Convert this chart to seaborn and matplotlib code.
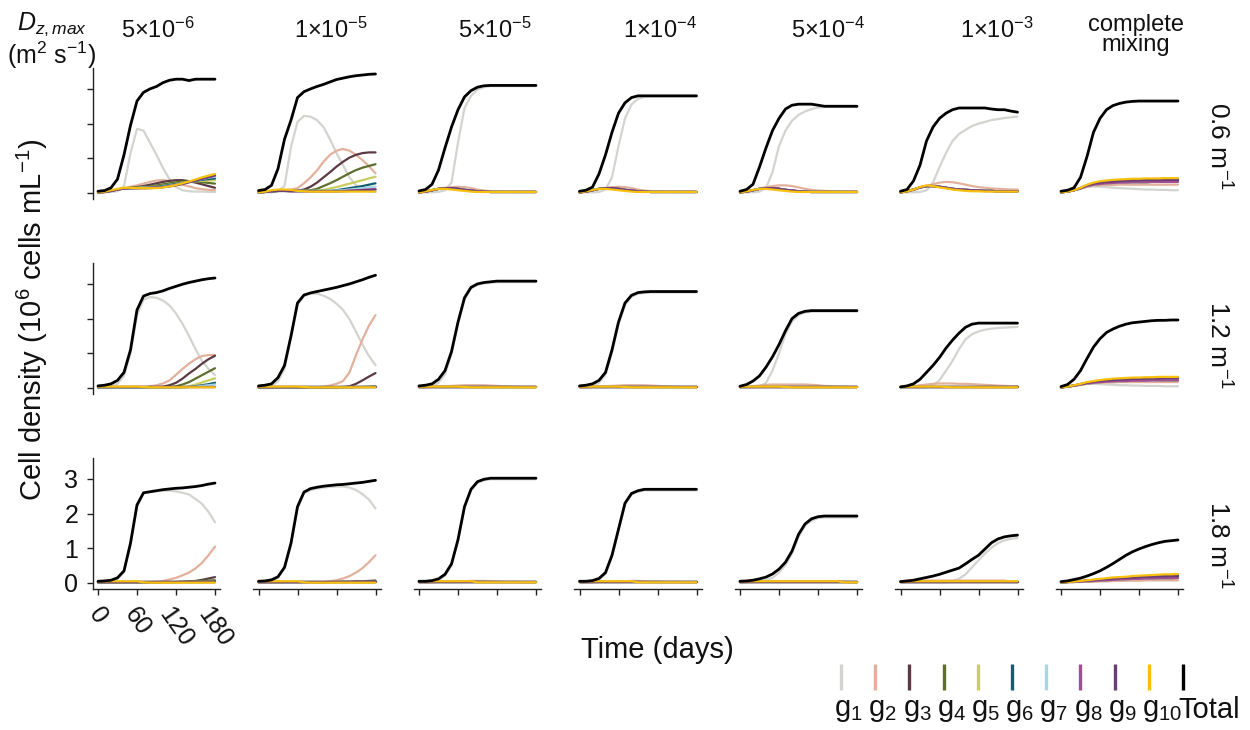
import matplotlib
matplotlib.use("Agg")
import matplotlib.pyplot as plt
import pandas as pd
import seaborn as sns

# ---------------------------------------------------------------- data
DAYS = list(range(0, 181, 10))

GENOS = ["g1", "g2", "g3", "g4", "g5", "g6", "g7", "g8", "g9", "g10", "Total"]
COLORS = ["#d2d5cf", "#e3b19b", "#5c3a44", "#5e6f2d", "#c8cf5d", "#0f5f6e",
          "#a9d6e6", "#a44e8f", "#6b3d76", "#f8c10e", "#000000"]
LEGEND_LABELS = [r"g$_{\mathregular{%d}}$" % i for i in range(1, 11)] + ["Total"]

DZ_TITLES = [r"5×10$^{\mathregular{-6}}$", r"1×10$^{\mathregular{-5}}$",
             r"5×10$^{\mathregular{-5}}$", r"1×10$^{\mathregular{-4}}$",
             r"5×10$^{\mathregular{-4}}$", r"1×10$^{\mathregular{-3}}$",
             "complete\nmixing"]
KD_LABELS = [r"0.6 m$^{\mathregular{-1}}$", r"1.2 m$^{\mathregular{-1}}$",
             r"1.8 m$^{\mathregular{-1}}$"]

Y_TICKS = [0, 1, 2, 3]
X_TICKS = [0, 60, 120, 180]

# shared low-abundance trajectories
low_flat = [0.02, 0.02, 0.02, 0.02, 0.02, 0.02, 0.02, 0.02, 0.02, 0.02,
            0.02, 0.02, 0.02, 0.02, 0.02, 0.02, 0.02, 0.02, 0.02]
early_bump = [0.02, 0.04, 0.08, 0.12, 0.14, 0.14, 0.12, 0.09, 0.07, 0.05,
              0.04, 0.03, 0.03, 0.03, 0.03, 0.03, 0.03, 0.03, 0.03]
early_bump_g2 = [0.02, 0.04, 0.08, 0.12, 0.15, 0.17, 0.18, 0.17, 0.14, 0.1,
                 0.07, 0.05, 0.04, 0.04, 0.03, 0.03, 0.03, 0.03, 0.03]
early_gold = [0.02, 0.05, 0.09, 0.12, 0.12, 0.1, 0.08, 0.06, 0.04, 0.03,
              0.03, 0.03, 0.03, 0.03, 0.03, 0.03, 0.03, 0.03, 0.03]
mid_bump_g2 = [0.02, 0.02, 0.03, 0.04, 0.05, 0.06, 0.07, 0.08, 0.08, 0.08,
               0.08, 0.07, 0.06, 0.05, 0.04, 0.04, 0.03, 0.03, 0.03]
gold_low = [0.04, 0.04, 0.04, 0.04, 0.04, 0.04, 0.04, 0.03, 0.02, 0.02,
            0.02, 0.02, 0.02, 0.02, 0.02, 0.02, 0.02, 0.02, 0.02]

# ---- k = 0.6 m-1
k06_5e6 = {
    "Total": [0.05, 0.07, 0.15, 0.4, 1.1, 1.95, 2.65, 2.9, 3.0, 3.07, 3.18, 3.25, 3.28, 3.28, 3.24, 3.28, 3.28, 3.28, 3.28],
    "g1": [0.02, 0.02, 0.03, 0.05, 0.2, 1.15, 1.85, 1.8, 1.45, 1.1, 0.72, 0.4, 0.17, 0.08, 0.05, 0.04, 0.04, 0.03, 0.03],
    "g2": [0.02, 0.03, 0.06, 0.1, 0.14, 0.18, 0.22, 0.27, 0.32, 0.36, 0.37, 0.35, 0.3, 0.24, 0.19, 0.14, 0.11, 0.09, 0.08],
    "g3": [0.02, 0.03, 0.06, 0.1, 0.13, 0.15, 0.17, 0.2, 0.24, 0.28, 0.32, 0.35, 0.37, 0.37, 0.34, 0.3, 0.25, 0.2, 0.15],
    "g4": [0.02, 0.03, 0.06, 0.1, 0.13, 0.14, 0.15, 0.17, 0.19, 0.22, 0.25, 0.28, 0.31, 0.33, 0.34, 0.33, 0.31, 0.29, 0.27],
    "g5": [0.02, 0.03, 0.06, 0.1, 0.13, 0.14, 0.15, 0.16, 0.17, 0.19, 0.21, 0.24, 0.27, 0.3, 0.32, 0.34, 0.35, 0.36, 0.37],
    "g6": [0.02, 0.03, 0.06, 0.1, 0.13, 0.14, 0.14, 0.15, 0.16, 0.18, 0.2, 0.23, 0.26, 0.29, 0.32, 0.35, 0.38, 0.4, 0.42],
    "g7": [0.02, 0.03, 0.06, 0.1, 0.13, 0.14, 0.14, 0.15, 0.15, 0.16, 0.18, 0.21, 0.24, 0.28, 0.32, 0.36, 0.4, 0.44, 0.47],
    "g8": [0.02, 0.03, 0.06, 0.1, 0.13, 0.14, 0.14, 0.14, 0.15, 0.16, 0.17, 0.2, 0.23, 0.27, 0.31, 0.36, 0.41, 0.45, 0.5],
    "g9": [0.02, 0.03, 0.06, 0.1, 0.13, 0.14, 0.14, 0.14, 0.14, 0.15, 0.17, 0.19, 0.22, 0.26, 0.31, 0.36, 0.41, 0.46, 0.51],
    "g10": [0.02, 0.04, 0.08, 0.12, 0.15, 0.15, 0.14, 0.14, 0.14, 0.14, 0.16, 0.19, 0.23, 0.28, 0.33, 0.39, 0.45, 0.5, 0.55],
}
k06_1e5 = {
    "Total": [0.07, 0.1, 0.22, 0.7, 1.55, 2.1, 2.75, 2.92, 3.0, 3.07, 3.13, 3.2, 3.27, 3.31, 3.35, 3.38, 3.4, 3.42, 3.43],
    "g1": [0.02, 0.02, 0.02, 0.04, 0.2, 1.33, 2.05, 2.22, 2.2, 2.1, 1.9, 1.55, 1.15, 0.8, 0.45, 0.22, 0.1, 0.05, 0.03],
    "g2": [0.02, 0.03, 0.05, 0.07, 0.08, 0.1, 0.14, 0.28, 0.45, 0.65, 0.9, 1.1, 1.22, 1.27, 1.22, 1.1, 0.95, 0.77, 0.57],
    "g3": [0.02, 0.03, 0.05, 0.06, 0.06, 0.06, 0.07, 0.1, 0.18, 0.3, 0.45, 0.6, 0.76, 0.9, 1.02, 1.1, 1.15, 1.17, 1.17],
    "g4": [0.02, 0.03, 0.05, 0.06, 0.06, 0.06, 0.06, 0.07, 0.08, 0.12, 0.2, 0.28, 0.37, 0.47, 0.57, 0.66, 0.73, 0.78, 0.83],
    "g5": [0.02, 0.03, 0.05, 0.06, 0.06, 0.06, 0.06, 0.06, 0.06, 0.07, 0.09, 0.13, 0.17, 0.22, 0.27, 0.32, 0.37, 0.42, 0.47],
    "g6": [0.02, 0.03, 0.05, 0.06, 0.06, 0.06, 0.06, 0.06, 0.06, 0.06, 0.06, 0.06, 0.08, 0.11, 0.14, 0.17, 0.2, 0.24, 0.28],
    "g7": [0.02, 0.03, 0.05, 0.06, 0.06, 0.06, 0.06, 0.06, 0.06, 0.06, 0.06, 0.06, 0.07, 0.08, 0.1, 0.12, 0.14, 0.16, 0.18],
    "g8": [0.02, 0.03, 0.05, 0.06, 0.06, 0.05, 0.05, 0.05, 0.05, 0.05, 0.05, 0.05, 0.05, 0.06, 0.07, 0.08, 0.09, 0.1, 0.11],
    "g9": [0.02, 0.03, 0.05, 0.06, 0.06, 0.05, 0.05, 0.05, 0.05, 0.05, 0.05, 0.05, 0.05, 0.05, 0.06, 0.07, 0.08, 0.09, 0.1],
    "g10": [0.02, 0.04, 0.08, 0.1, 0.1, 0.09, 0.06, 0.05, 0.04, 0.04, 0.04, 0.04, 0.04, 0.04, 0.04, 0.04, 0.04, 0.04, 0.04],
}
k06_5e5 = {
    "Total": [0.06, 0.1, 0.25, 0.66, 1.3, 1.9, 2.4, 2.77, 2.95, 3.05, 3.09, 3.1, 3.1, 3.1, 3.1, 3.1, 3.1, 3.1, 3.1],
    "g1": [0.02, 0.02, 0.02, 0.03, 0.08, 0.3, 1.45, 2.45, 2.8, 2.98, 3.05, 3.08, 3.08, 3.08, 3.08, 3.08, 3.08, 3.08, 3.08],
    "g2": early_bump_g2, "g10": early_gold, "rest": early_bump,
}
k06_1e4 = {
    "Total": [0.05, 0.08, 0.17, 0.55, 1.1, 1.75, 2.3, 2.6, 2.75, 2.8, 2.8, 2.8, 2.8, 2.8, 2.8, 2.8, 2.8, 2.8, 2.8],
    "g1": [0.02, 0.02, 0.02, 0.03, 0.1, 0.45, 1.35, 2.15, 2.55, 2.72, 2.77, 2.78, 2.78, 2.78, 2.78, 2.78, 2.78, 2.78, 2.78],
    "g2": early_bump_g2, "g10": early_gold, "rest": early_bump,
}
k06_5e4 = {
    "Total": [0.05, 0.1, 0.25, 0.75, 1.3, 1.8, 2.15, 2.42, 2.53, 2.56, 2.56, 2.56, 2.53, 2.5, 2.5, 2.5, 2.5, 2.5, 2.5],
    "g1": [0.02, 0.02, 0.02, 0.04, 0.15, 0.6, 1.35, 1.8, 2.08, 2.25, 2.35, 2.42, 2.46, 2.48, 2.48, 2.48, 2.48, 2.48, 2.48],
    "g2": [0.02, 0.04, 0.08, 0.13, 0.17, 0.2, 0.22, 0.22, 0.2, 0.16, 0.12, 0.09, 0.07, 0.06, 0.05, 0.04, 0.04, 0.04, 0.04],
    "g10": early_gold, "rest": early_bump,
}
k06_1e3 = {
    "Total": [0.05, 0.1, 0.35, 0.8, 1.5, 1.9, 2.15, 2.3, 2.4, 2.45, 2.45, 2.45, 2.45, 2.45, 2.42, 2.4, 2.4, 2.36, 2.33],
    "g1": [0.02, 0.02, 0.02, 0.03, 0.08, 0.3, 0.75, 1.15, 1.5, 1.7, 1.82, 1.93, 2.0, 2.05, 2.1, 2.13, 2.16, 2.18, 2.2],
    "g2": [0.02, 0.04, 0.08, 0.15, 0.2, 0.25, 0.3, 0.32, 0.31, 0.28, 0.24, 0.2, 0.17, 0.15, 0.13, 0.12, 0.11, 0.1, 0.1],
    "g10": [0.02, 0.05, 0.1, 0.17, 0.22, 0.2, 0.16, 0.13, 0.1, 0.08, 0.06, 0.05, 0.05, 0.04, 0.04, 0.04, 0.04, 0.04, 0.04],
    "rest": [0.02, 0.05, 0.1, 0.16, 0.2, 0.2, 0.18, 0.15, 0.12, 0.1, 0.09, 0.08, 0.07, 0.06, 0.06, 0.05, 0.05, 0.05, 0.05],
}
k06_mix = {
    "Total": [0.05, 0.08, 0.15, 0.45, 1.05, 1.75, 2.15, 2.4, 2.52, 2.58, 2.62, 2.64, 2.65, 2.65, 2.65, 2.65, 2.65, 2.65, 2.65],
    "g1": [0.02, 0.04, 0.08, 0.13, 0.18, 0.19, 0.18, 0.17, 0.15, 0.14, 0.13, 0.12, 0.11, 0.1, 0.1, 0.09, 0.09, 0.08, 0.08],
    "g2": [0.02, 0.04, 0.08, 0.13, 0.18, 0.21, 0.22, 0.23, 0.23, 0.24, 0.24, 0.24, 0.24, 0.24, 0.24, 0.24, 0.24, 0.24, 0.24],
    "g3": [0.02, 0.04, 0.08, 0.14, 0.22, 0.27, 0.3, 0.32, 0.33, 0.34, 0.35, 0.36, 0.36, 0.37, 0.37, 0.37, 0.38, 0.38, 0.38],
    "g6": [0.02, 0.04, 0.08, 0.14, 0.22, 0.27, 0.3, 0.32, 0.33, 0.34, 0.35, 0.36, 0.36, 0.37, 0.37, 0.37, 0.38, 0.38, 0.38],
    "g9": [0.02, 0.04, 0.08, 0.14, 0.22, 0.27, 0.3, 0.32, 0.33, 0.34, 0.35, 0.36, 0.36, 0.37, 0.37, 0.37, 0.38, 0.38, 0.38],
    "g10": [0.02, 0.04, 0.08, 0.15, 0.24, 0.3, 0.34, 0.36, 0.38, 0.39, 0.4, 0.41, 0.41, 0.42, 0.42, 0.42, 0.43, 0.43, 0.43],
    "rest": [0.02, 0.04, 0.08, 0.13, 0.2, 0.24, 0.26, 0.28, 0.29, 0.3, 0.3, 0.31, 0.31, 0.31, 0.32, 0.32, 0.32, 0.32, 0.32],
}

# ---- k = 1.2 m-1
k12_5e6 = {
    "Total": [0.06, 0.08, 0.12, 0.22, 0.45, 1.1, 2.25, 2.65, 2.72, 2.75, 2.8, 2.87, 2.93, 2.99, 3.04, 3.08, 3.12, 3.15, 3.17],
    "g1": [0.02, 0.03, 0.05, 0.12, 0.35, 1.0, 2.1, 2.55, 2.62, 2.6, 2.52, 2.38, 2.15, 1.85, 1.5, 1.12, 0.78, 0.55, 0.37],
    "g2": [0.02, 0.02, 0.03, 0.03, 0.04, 0.04, 0.04, 0.04, 0.05, 0.08, 0.13, 0.22, 0.38, 0.55, 0.7, 0.83, 0.92, 0.95, 0.95],
    "g3": [0.02, 0.02, 0.02, 0.02, 0.02, 0.02, 0.02, 0.02, 0.03, 0.03, 0.04, 0.08, 0.15, 0.27, 0.42, 0.55, 0.7, 0.83, 0.93],
    "g4": [0.02, 0.02, 0.02, 0.02, 0.02, 0.02, 0.02, 0.02, 0.02, 0.02, 0.02, 0.03, 0.05, 0.1, 0.17, 0.27, 0.37, 0.47, 0.57],
    "g5": [0.02, 0.02, 0.02, 0.02, 0.02, 0.02, 0.02, 0.02, 0.02, 0.02, 0.02, 0.02, 0.02, 0.03, 0.05, 0.1, 0.16, 0.22, 0.28],
    "g6": [0.02, 0.02, 0.02, 0.02, 0.02, 0.02, 0.02, 0.02, 0.02, 0.02, 0.02, 0.02, 0.02, 0.02, 0.03, 0.05, 0.08, 0.11, 0.15],
    "g7": [0.02, 0.02, 0.02, 0.02, 0.02, 0.02, 0.02, 0.02, 0.02, 0.02, 0.02, 0.02, 0.02, 0.02, 0.03, 0.04, 0.06, 0.08, 0.1],
    "g10": gold_low, "rest": low_flat,
}
k12_1e5 = {
    "Total": [0.06, 0.08, 0.12, 0.3, 0.65, 1.5, 2.45, 2.68, 2.74, 2.78, 2.82, 2.86, 2.9, 2.95, 3.0, 3.06, 3.12, 3.19, 3.25],
    "g1": [0.02, 0.03, 0.05, 0.2, 0.55, 1.45, 2.4, 2.65, 2.72, 2.72, 2.66, 2.57, 2.43, 2.25, 1.98, 1.62, 1.25, 0.92, 0.66],
    "g2": [0.02, 0.02, 0.02, 0.02, 0.03, 0.03, 0.03, 0.03, 0.03, 0.03, 0.04, 0.07, 0.12, 0.2, 0.45, 0.95, 1.4, 1.8, 2.1],
    "g3": [0.02, 0.02, 0.02, 0.02, 0.02, 0.02, 0.02, 0.02, 0.02, 0.02, 0.02, 0.02, 0.02, 0.03, 0.05, 0.12, 0.22, 0.33, 0.43],
    "g4": [0.02, 0.02, 0.02, 0.02, 0.02, 0.02, 0.02, 0.02, 0.02, 0.02, 0.02, 0.02, 0.02, 0.02, 0.02, 0.03, 0.03, 0.04, 0.05],
    "g10": gold_low, "rest": low_flat,
}
k12_5e5 = {
    "Total": [0.06, 0.08, 0.12, 0.25, 0.5, 1.05, 1.9, 2.6, 2.9, 3.0, 3.04, 3.06, 3.08, 3.08, 3.08, 3.08, 3.08, 3.08, 3.08],
    "g1": [0.02, 0.03, 0.05, 0.15, 0.4, 0.98, 1.85, 2.55, 2.87, 2.98, 3.02, 3.04, 3.05, 3.05, 3.05, 3.05, 3.05, 3.05, 3.05],
    "g2": mid_bump_g2, "g10": gold_low, "rest": low_flat,
}
k12_1e4 = {
    "Total": [0.06, 0.08, 0.12, 0.22, 0.45, 1.1, 1.9, 2.45, 2.67, 2.75, 2.77, 2.78, 2.78, 2.78, 2.78, 2.78, 2.78, 2.78, 2.78],
    "g1": [0.02, 0.03, 0.05, 0.15, 0.38, 1.02, 1.84, 2.4, 2.63, 2.72, 2.74, 2.75, 2.75, 2.75, 2.75, 2.75, 2.75, 2.75, 2.75],
    "g2": mid_bump_g2, "g10": gold_low, "rest": low_flat,
}
k12_5e4 = {
    "Total": [0.05, 0.1, 0.2, 0.35, 0.6, 0.9, 1.25, 1.65, 2.0, 2.15, 2.21, 2.23, 2.23, 2.23, 2.23, 2.23, 2.23, 2.23, 2.23],
    "g1": [0.02, 0.02, 0.02, 0.05, 0.15, 0.5, 1.0, 1.55, 1.92, 2.1, 2.18, 2.2, 2.2, 2.2, 2.2, 2.2, 2.2, 2.2, 2.2],
    "g2": [0.02, 0.03, 0.05, 0.07, 0.09, 0.1, 0.1, 0.1, 0.1, 0.1, 0.1, 0.09, 0.08, 0.06, 0.05, 0.04, 0.04, 0.03, 0.03],
    "g10": gold_low, "rest": low_flat,
}
k12_1e3 = {
    "Total": [0.03, 0.06, 0.12, 0.25, 0.45, 0.65, 0.88, 1.15, 1.38, 1.58, 1.75, 1.84, 1.87, 1.87, 1.87, 1.87, 1.87, 1.87, 1.87],
    "g1": [0.02, 0.02, 0.02, 0.02, 0.02, 0.08, 0.22, 0.5, 0.78, 1.12, 1.4, 1.55, 1.63, 1.68, 1.71, 1.73, 1.74, 1.75, 1.76],
    "g2": [0.02, 0.03, 0.05, 0.08, 0.1, 0.12, 0.13, 0.13, 0.13, 0.12, 0.12, 0.11, 0.1, 0.09, 0.08, 0.07, 0.06, 0.05, 0.05],
    "g10": gold_low, "rest": low_flat,
}
k12_mix = {
    "Total": [0.04, 0.1, 0.25, 0.5, 0.85, 1.18, 1.42, 1.6, 1.7, 1.78, 1.84, 1.88, 1.9, 1.92, 1.94, 1.95, 1.95, 1.96, 1.96],
    "g1": [0.02, 0.04, 0.07, 0.1, 0.12, 0.12, 0.11, 0.1, 0.09, 0.08, 0.08, 0.07, 0.07, 0.06, 0.06, 0.06, 0.05, 0.05, 0.05],
    "g2": [0.02, 0.03, 0.06, 0.09, 0.12, 0.14, 0.15, 0.16, 0.16, 0.17, 0.17, 0.17, 0.17, 0.17, 0.17, 0.17, 0.17, 0.17, 0.17],
    "g3": [0.02, 0.04, 0.07, 0.11, 0.15, 0.18, 0.2, 0.22, 0.23, 0.24, 0.25, 0.26, 0.26, 0.27, 0.27, 0.27, 0.28, 0.28, 0.28],
    "g6": [0.02, 0.04, 0.07, 0.11, 0.15, 0.18, 0.2, 0.22, 0.23, 0.24, 0.25, 0.26, 0.26, 0.27, 0.27, 0.27, 0.28, 0.28, 0.28],
    "g9": [0.02, 0.04, 0.07, 0.11, 0.15, 0.18, 0.2, 0.22, 0.23, 0.24, 0.25, 0.26, 0.26, 0.27, 0.27, 0.27, 0.28, 0.28, 0.28],
    "g10": [0.02, 0.04, 0.08, 0.12, 0.17, 0.2, 0.23, 0.25, 0.27, 0.28, 0.29, 0.3, 0.3, 0.31, 0.31, 0.32, 0.32, 0.32, 0.32],
    "rest": [0.02, 0.04, 0.07, 0.1, 0.13, 0.15, 0.17, 0.18, 0.19, 0.2, 0.2, 0.21, 0.21, 0.21, 0.22, 0.22, 0.22, 0.22, 0.22],
}

# ---- k = 1.8 m-1
gold_drop = [0.05, 0.05, 0.05, 0.05, 0.05, 0.05, 0.05, 0.02, 0.01, 0.01,
             0.01, 0.01, 0.01, 0.01, 0.01, 0.01, 0.01, 0.01, 0.01]
k18_5e6 = {
    "Total": [0.05, 0.06, 0.08, 0.15, 0.35, 1.15, 2.25, 2.6, 2.63, 2.66, 2.69, 2.71, 2.73, 2.74, 2.76, 2.78, 2.81, 2.85, 2.88],
    "g1": [0.03, 0.04, 0.06, 0.12, 0.32, 1.1, 2.2, 2.58, 2.62, 2.65, 2.66, 2.66, 2.64, 2.6, 2.55, 2.42, 2.28, 2.05, 1.75],
    "g2": [0.02, 0.02, 0.02, 0.02, 0.03, 0.03, 0.03, 0.03, 0.03, 0.04, 0.06, 0.1, 0.15, 0.22, 0.3, 0.42, 0.58, 0.8, 1.05],
    "g3": [0.02, 0.02, 0.02, 0.02, 0.02, 0.02, 0.02, 0.02, 0.02, 0.02, 0.03, 0.03, 0.03, 0.04, 0.05, 0.06, 0.09, 0.13, 0.17],
    "g4": [0.02, 0.02, 0.02, 0.02, 0.02, 0.02, 0.02, 0.02, 0.02, 0.02, 0.02, 0.02, 0.03, 0.03, 0.04, 0.05, 0.06, 0.07, 0.08],
    "g10": gold_drop, "rest": low_flat,
}
k18_1e5 = {
    "Total": [0.05, 0.06, 0.09, 0.18, 0.45, 1.15, 2.2, 2.62, 2.72, 2.76, 2.79, 2.81, 2.83, 2.84, 2.86, 2.88, 2.9, 2.93, 2.96],
    "g1": [0.03, 0.04, 0.06, 0.15, 0.42, 1.1, 2.15, 2.58, 2.68, 2.72, 2.75, 2.77, 2.78, 2.78, 2.75, 2.68, 2.56, 2.4, 2.15],
    "g2": [0.02, 0.02, 0.02, 0.02, 0.03, 0.03, 0.03, 0.03, 0.03, 0.03, 0.03, 0.05, 0.08, 0.13, 0.2, 0.3, 0.43, 0.6, 0.8],
    "g3": [0.02, 0.02, 0.02, 0.02, 0.02, 0.02, 0.02, 0.02, 0.02, 0.02, 0.02, 0.03, 0.03, 0.04, 0.04, 0.05, 0.05, 0.06, 0.07],
    "g10": gold_drop, "rest": low_flat,
}
k18_5e5 = {
    "Total": [0.05, 0.05, 0.07, 0.12, 0.25, 0.55, 1.25, 2.2, 2.7, 2.92, 2.99, 3.02, 3.02, 3.02, 3.02, 3.02, 3.02, 3.02, 3.02],
    "g1": [0.02, 0.02, 0.03, 0.08, 0.21, 0.51, 1.21, 2.17, 2.67, 2.89, 2.96, 2.99, 2.99, 2.99, 2.99, 2.99, 2.99, 2.99, 2.99],
    "g2": [0.02, 0.02, 0.02, 0.03, 0.03, 0.03, 0.04, 0.05, 0.06, 0.06, 0.06, 0.05, 0.04, 0.03, 0.03, 0.03, 0.02, 0.02, 0.02],
    "g10": [0.05, 0.05, 0.05, 0.05, 0.05, 0.05, 0.05, 0.05, 0.05, 0.02, 0.02, 0.02, 0.02, 0.02, 0.02, 0.02, 0.02, 0.02, 0.02],
    "rest": low_flat,
}
k18_1e4 = {
    "Total": [0.05, 0.05, 0.07, 0.13, 0.3, 0.8, 1.55, 2.3, 2.58, 2.66, 2.7, 2.7, 2.7, 2.7, 2.7, 2.7, 2.7, 2.7, 2.7],
    "g1": [0.02, 0.02, 0.03, 0.09, 0.26, 0.76, 1.51, 2.27, 2.55, 2.63, 2.67, 2.67, 2.67, 2.67, 2.67, 2.67, 2.67, 2.67, 2.67],
    "g2": [0.02, 0.02, 0.02, 0.03, 0.03, 0.03, 0.04, 0.05, 0.06, 0.06, 0.05, 0.04, 0.04, 0.03, 0.03, 0.03, 0.02, 0.02, 0.02],
    "g10": [0.05, 0.05, 0.05, 0.05, 0.05, 0.05, 0.05, 0.05, 0.05, 0.02, 0.02, 0.02, 0.02, 0.02, 0.02, 0.02, 0.02, 0.02, 0.02],
    "rest": low_flat,
}
k18_5e4 = {
    "Total": [0.05, 0.06, 0.08, 0.12, 0.17, 0.26, 0.4, 0.6, 0.92, 1.4, 1.7, 1.85, 1.91, 1.93, 1.93, 1.93, 1.93, 1.93, 1.93],
    "g1": [0.02, 0.02, 0.03, 0.05, 0.08, 0.15, 0.3, 0.52, 0.85, 1.33, 1.65, 1.8, 1.87, 1.89, 1.89, 1.89, 1.89, 1.89, 1.89],
    "g2": [0.02, 0.03, 0.04, 0.05, 0.05, 0.05, 0.05, 0.05, 0.05, 0.05, 0.05, 0.05, 0.05, 0.05, 0.05, 0.05, 0.03, 0.02, 0.02],
    "g10": [0.05, 0.05, 0.05, 0.05, 0.05, 0.05, 0.05, 0.05, 0.05, 0.05, 0.05, 0.05, 0.05, 0.05, 0.05, 0.05, 0.02, 0.02, 0.02],
    "rest": low_flat,
}
k18_1e3 = {
    "Total": [0.04, 0.06, 0.08, 0.12, 0.16, 0.2, 0.25, 0.31, 0.37, 0.43, 0.55, 0.68, 0.8, 0.98, 1.16, 1.27, 1.33, 1.36, 1.38],
    "g1": [0.02, 0.02, 0.02, 0.02, 0.02, 0.02, 0.02, 0.02, 0.06, 0.12, 0.25, 0.45, 0.65, 0.85, 1.02, 1.15, 1.23, 1.27, 1.3],
    "g2": [0.02, 0.03, 0.05, 0.06, 0.07, 0.07, 0.07, 0.07, 0.07, 0.07, 0.07, 0.07, 0.07, 0.07, 0.07, 0.07, 0.07, 0.03, 0.03],
    "g10": [0.04, 0.05, 0.05, 0.05, 0.05, 0.05, 0.05, 0.05, 0.05, 0.05, 0.05, 0.05, 0.05, 0.05, 0.05, 0.05, 0.05, 0.05, 0.05],
    "rest": low_flat,
}
k18_mix = {
    "Total": [0.04, 0.06, 0.1, 0.14, 0.2, 0.27, 0.35, 0.45, 0.56, 0.68, 0.8, 0.9, 0.98, 1.05, 1.11, 1.16, 1.2, 1.22, 1.24],
    "g1": [0.02, 0.02, 0.03, 0.03, 0.04, 0.04, 0.05, 0.05, 0.06, 0.06, 0.07, 0.07, 0.07, 0.08, 0.08, 0.08, 0.08, 0.08, 0.08],
    "g2": [0.02, 0.02, 0.03, 0.03, 0.04, 0.04, 0.05, 0.05, 0.06, 0.06, 0.07, 0.07, 0.07, 0.08, 0.08, 0.08, 0.08, 0.08, 0.08],
    "g3": [0.02, 0.03, 0.04, 0.05, 0.07, 0.08, 0.1, 0.11, 0.13, 0.14, 0.15, 0.16, 0.17, 0.18, 0.18, 0.19, 0.19, 0.2, 0.2],
    "g6": [0.02, 0.03, 0.04, 0.05, 0.07, 0.08, 0.1, 0.11, 0.13, 0.14, 0.15, 0.16, 0.17, 0.18, 0.18, 0.19, 0.19, 0.2, 0.2],
    "g9": [0.02, 0.03, 0.04, 0.05, 0.07, 0.08, 0.1, 0.11, 0.13, 0.14, 0.15, 0.16, 0.17, 0.18, 0.18, 0.19, 0.19, 0.2, 0.2],
    "g10": [0.02, 0.03, 0.04, 0.06, 0.08, 0.1, 0.12, 0.14, 0.16, 0.17, 0.18, 0.2, 0.21, 0.22, 0.23, 0.24, 0.25, 0.25, 0.26],
    "rest": [0.02, 0.03, 0.03, 0.04, 0.05, 0.06, 0.07, 0.08, 0.09, 0.1, 0.11, 0.12, 0.12, 0.13, 0.13, 0.14, 0.14, 0.14, 0.15],
}

PANELS = [
    [k06_5e6, k06_1e5, k06_5e5, k06_1e4, k06_5e4, k06_1e3, k06_mix],
    [k12_5e6, k12_1e5, k12_5e5, k12_1e4, k12_5e4, k12_1e3, k12_mix],
    [k18_5e6, k18_1e5, k18_5e5, k18_1e4, k18_5e4, k18_1e3, k18_mix],
]


def panel_frame(panel):
    rows = []
    for name in GENOS:
        values = panel.get(name, panel.get("rest"))
        for d, v in zip(DAYS, values):
            rows.append({"day": d, "density": v, "series": name})
    return pd.DataFrame(rows)


# ---------------------------------------------------------------- style
sns.set_theme(style="ticks")
plt.rcParams["font.family"] = ["Liberation Sans", "DejaVu Sans"]
plt.rcParams["mathtext.fontset"] = "custom"
plt.rcParams["mathtext.rm"] = "Liberation Sans"
plt.rcParams["mathtext.it"] = "Liberation Sans:italic"
plt.rcParams["mathtext.bf"] = "Liberation Sans:bold"
for key in ("text.color", "axes.labelcolor", "xtick.color", "ytick.color",
            "axes.edgecolor"):
    plt.rcParams[key] = "#111111"

W, H = 1250, 730
fig = plt.figure(figsize=(W / 100, H / 100), dpi=100)
palette = dict(zip(GENOS, COLORS))

XLIM = (-8, 188)
YLIM = (-0.17, 3.6)
PX_PER_DAY = 0.65
PX_PER_UNIT = 34.7
COL_X0 = 98          # pixel of day 0 in first column
COL_STEP = 160.5
ROW_Y0 = [193, 388, 583]  # pixel of density 0 per row


def px_axes(x0_px, y0_px):
    left = x0_px + XLIM[0] * PX_PER_DAY
    width = (XLIM[1] - XLIM[0]) * PX_PER_DAY
    bottom_px = y0_px - YLIM[0] * PX_PER_UNIT
    height = (YLIM[1] - YLIM[0]) * PX_PER_UNIT
    return fig.add_axes([left / W, 1 - bottom_px / H, width / W, height / H])


for r, row in enumerate(PANELS):
    for c, panel in enumerate(row):
        ax = px_axes(COL_X0 + c * COL_STEP, ROW_Y0[r])
        df = panel_frame(panel)
        sns.lineplot(data=df, x="day", y="density", hue="series",
                     hue_order=GENOS, palette=palette, linewidth=1.6,
                     estimator=None, legend=False, ax=ax)
        ax.lines[-1].set_linewidth(2.0)
        ax.set_xlim(*XLIM)
        ax.set_ylim(*YLIM)
        ax.set_xlabel("")
        ax.set_ylabel("")
        for s in ("top", "right"):
            ax.spines[s].set_visible(False)
        for s in ("left", "bottom"):
            ax.spines[s].set_color("#222222")
            ax.spines[s].set_linewidth(1.0)
        ax.set_yticks(Y_TICKS)
        ax.set_xticks(X_TICKS)
        ax.tick_params(axis="both", direction="out", length=4.5, width=1.0,
                       color="#222222", labelcolor="#111111", labelsize=18,
                       pad=6)
        if c > 0:
            ax.spines["left"].set_visible(False)
            ax.tick_params(axis="y", left=False, labelleft=False)
        elif r < 2:
            ax.tick_params(axis="y", labelleft=False)
        if r < 2:
            ax.spines["bottom"].set_visible(False)
            ax.tick_params(axis="x", bottom=False, labelbottom=False)
        elif c > 0:
            ax.tick_params(axis="x", labelbottom=False)
        else:
            for lbl in ax.get_xticklabels():
                lbl.set_rotation(-55)
                lbl.set_ha("center")

# column titles
TITLE_X = [158, 331, 495, 660, 828, 997, 1136]
for x, t in zip(TITLE_X, DZ_TITLES):
    if "\n" in t:
        fig.text(x / W, 1 - 35 / H, t, ha="center", va="center", fontsize=17,
                 linespacing=0.85)
    else:
        fig.text(x / W, 1 - 30 / H, t, ha="center", va="center", fontsize=17)

# row labels
for y, t in zip([146, 345, 545], KD_LABELS):
    fig.text(1218 / W, 1 - y / H, t, ha="center", va="center", rotation=270,
             fontsize=19)

fig.text(52 / W, 1 - 24 / H, r"$D_{z,max}$", ha="center", va="center",
         fontsize=18)
fig.text(52 / W, 1 - 55 / H, r"(m$^{\mathregular{2}}$ s$^{\mathregular{-1}}$)",
         ha="center", va="center", fontsize=18)

fig.text(32 / W, 1 - 320 / H,
         r"Cell density (10$^{\mathregular{6}}$ cells mL$^{\mathregular{-1}}$)",
         ha="center", va="center", rotation=90, fontsize=21)
fig.text(657 / W, 1 - 650 / H, "Time (days)", ha="center", va="center",
         fontsize=21)

# legend strip
lax = fig.add_axes([824 / W, 1 - 728 / H, 376 / W, 73 / H])
lax.set_xlim(-0.5, 10.5)
lax.set_ylim(0, 1)
lax.axis("off")
for i, (name, col) in enumerate(zip(GENOS, COLORS)):
    lax.vlines(i, 0.52, 0.88, color=col, linewidth=2.4)
    x_text = i - 0.2 if i < 10 else i - 0.12
    lax.text(x_text, 0.25, LEGEND_LABELS[i], ha="left", va="center",
             fontsize=21)

fig.savefig("out.png", dpi=100)
